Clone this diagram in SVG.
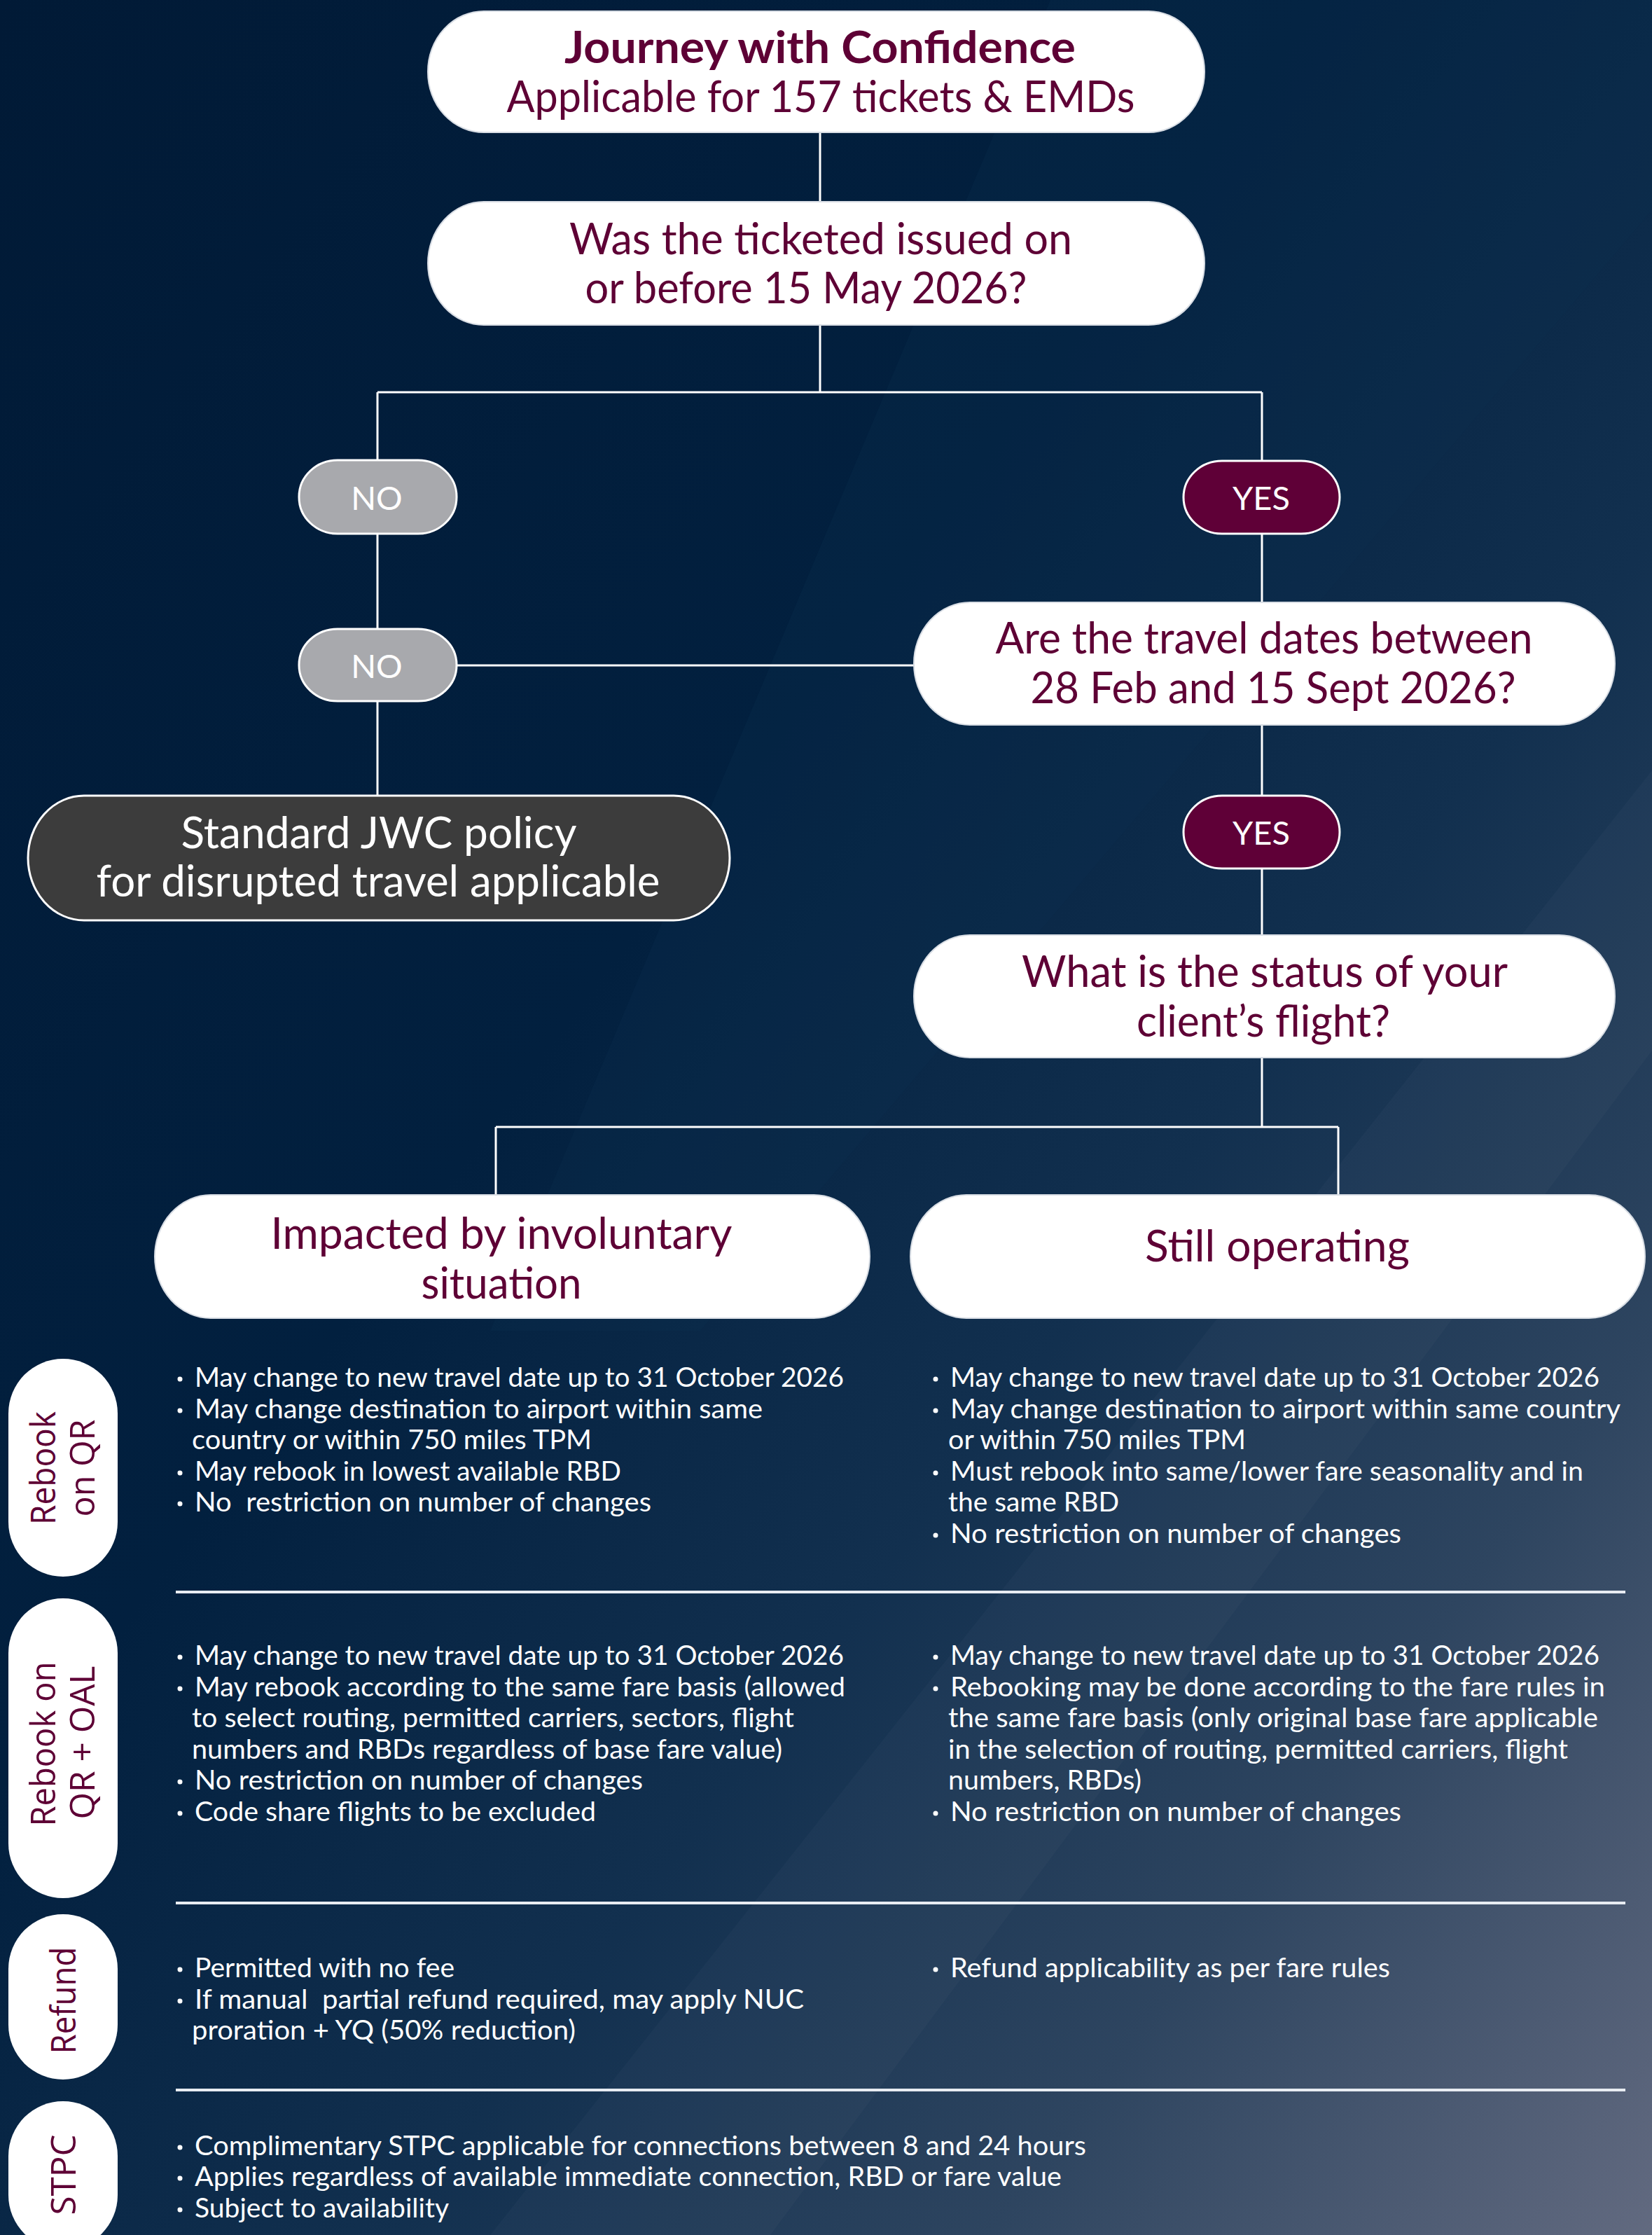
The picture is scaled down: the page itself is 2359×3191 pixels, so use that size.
<svg xmlns="http://www.w3.org/2000/svg" width="2359" height="3191" viewBox="0 0 2359 3191">
<defs>
<linearGradient id="bg" x1="0" y1="0" x2="1" y2="1">
<stop offset="0" stop-color="#011a36"/>
<stop offset="0.4" stop-color="#02203f"/>
<stop offset="0.62" stop-color="#12304f"/>
<stop offset="0.8" stop-color="#2e4560"/>
<stop offset="1" stop-color="#626a80"/>
</linearGradient>
<style>
.node{fill:#ffffff;stroke:#d8dde4;stroke-width:2}
.nt{font-family:Lato,"Liberation Sans",sans-serif;font-size:61px;fill:#5e0035;text-anchor:middle}
.nb{font-weight:bold;font-size:64px}
.no{fill:#a8a9ad;stroke:#ffffff;stroke-width:3}
.yes{fill:#5f0037;stroke:#ffffff;stroke-width:3}
.std{fill:#3c3c3c;stroke:#ffffff;stroke-width:3}
.lt{font-family:Lato,"Liberation Sans",sans-serif;font-size:47px;fill:#ffffff;text-anchor:middle}
.wt{font-family:Lato,"Liberation Sans",sans-serif;font-size:61px;fill:#ffffff;text-anchor:middle}
.conn{stroke:#ffffff;stroke-width:3;fill:none}
.div{stroke:#e8ecf2;stroke-width:4}
.side{fill:#ffffff}
.st{font-family:"Open Sans","Liberation Sans",sans-serif;font-size:50px;fill:#5e0035;text-anchor:middle}
.bt{font-family:Lato,"Liberation Sans",sans-serif;font-size:39.5px;fill:#ffffff}
.bu{fill:#ffffff}
</style>
</defs>
<rect x="0" y="0" width="2359" height="3191" fill="url(#bg)"/>
<path d="M700 3191 L2359 1100 L2359 1500 L1100 3191 Z" fill="#ffffff" opacity="0.025"/>
<path d="M1500 0 L2359 0 L2359 300 L1000 1900 L700 1900 Z" fill="#0a3050" opacity="0.25"/>

<g id="connectors">
<path class="conn" d="M1171 189 V288"/>
<path class="conn" d="M1171 464 V560 M539 560 H1802 M539 560 V657 M1802 560 V658"/>
<path class="conn" d="M539 762 V898"/>
<path class="conn" d="M652 950 H1305"/>
<path class="conn" d="M539 1001 V1136"/>
<path class="conn" d="M1802 762 V860"/>
<path class="conn" d="M1802 1035 V1136"/>
<path class="conn" d="M1802 1240 V1335"/>
<path class="conn" d="M1802 1510 V1609 M708 1609 H1911 M708 1609 V1706 M1911 1609 V1706"/>
</g>

<g id="n-title">
<rect class="node" x="611" y="16" width="1109" height="173" rx="80" ry="86"/>
<text class="nt nb" x="1171" y="90" textLength="730" lengthAdjust="spacingAndGlyphs">Journey with Confidence</text>
<text class="nt" x="1172" y="160" textLength="897" lengthAdjust="spacingAndGlyphs">Applicable for 157 tickets &amp; EMDs</text>
</g>
<g id="n-issued">
<rect class="node" x="611" y="288" width="1109" height="176" rx="80" ry="88"/>
<text class="nt" x="1172" y="363" textLength="718" lengthAdjust="spacingAndGlyphs">Was the ticketed issued on</text>
<text class="nt" x="1151" y="433" textLength="631" lengthAdjust="spacingAndGlyphs">or before 15 May 2026?</text>
</g>
<g id="n-no1">
<rect class="no" x="427" y="657" width="225" height="105" rx="55" ry="52"/>
<text class="lt" x="538" y="728">NO</text>
</g>
<g id="n-no2">
<rect class="no" x="427" y="898" width="225" height="103" rx="55" ry="51"/>
<text class="lt" x="538" y="968">NO</text>
</g>
<g id="n-standard">
<rect class="std" x="40" y="1136" width="1002" height="178" rx="80" ry="89"/>
<text class="wt" x="541" y="1211" textLength="565" lengthAdjust="spacingAndGlyphs">Standard JWC policy</text>
<text class="wt" x="540" y="1280" textLength="805" lengthAdjust="spacingAndGlyphs">for disrupted travel applicable</text>
</g>
<g id="n-yes1">
<rect class="yes" x="1690" y="658" width="223" height="104" rx="55" ry="52"/>
<text class="lt" x="1801" y="728">YES</text>
</g>
<g id="n-dates">
<rect class="node" x="1305" y="860" width="1001" height="175" rx="80" ry="87"/>
<text class="nt" x="1805" y="933" textLength="767" lengthAdjust="spacingAndGlyphs">Are the travel dates between</text>
<text class="nt" x="1818" y="1004" textLength="693" lengthAdjust="spacingAndGlyphs">28 Feb and 15 Sept 2026?</text>
</g>
<g id="n-yes2">
<rect class="yes" x="1690" y="1136" width="223" height="104" rx="55" ry="52"/>
<text class="lt" x="1801" y="1206">YES</text>
</g>
<g id="n-status">
<rect class="node" x="1305" y="1335" width="1001" height="175" rx="80" ry="87"/>
<text class="nt" x="1806" y="1409" textLength="694" lengthAdjust="spacingAndGlyphs">What is the status of your</text>
<text class="nt" x="1804" y="1480" textLength="362" lengthAdjust="spacingAndGlyphs">client’s flight?</text>
</g>
<g id="n-impacted">
<rect class="node" x="221" y="1706" width="1021" height="176" rx="80" ry="88"/>
<text class="nt" x="716" y="1783" textLength="659" lengthAdjust="spacingAndGlyphs">Impacted by involuntary</text>
<text class="nt" x="716" y="1854" textLength="229" lengthAdjust="spacingAndGlyphs">situation</text>
</g>
<g id="n-operating">
<rect class="node" x="1300" y="1706" width="1049" height="176" rx="80" ry="88"/>
<text class="nt" x="1824" y="1801" textLength="378" lengthAdjust="spacingAndGlyphs">Still operating</text>
</g>

<g id="side-rebook-qr">
<rect class="side" x="12" y="1940" width="156" height="311" rx="78" ry="78"/>
<text class="st" transform="translate(79,2096) rotate(-90)" textLength="162" lengthAdjust="spacingAndGlyphs">Rebook</text>
<text class="st" transform="translate(135,2096) rotate(-90)" textLength="139" lengthAdjust="spacingAndGlyphs">on QR</text>
</g>
<g id="side-rebook-oal">
<rect class="side" x="12" y="2282" width="156" height="428" rx="78" ry="78"/>
<text class="st" transform="translate(79,2490) rotate(-90)" textLength="235" lengthAdjust="spacingAndGlyphs">Rebook on</text>
<text class="st" transform="translate(135,2488) rotate(-90)" textLength="219" lengthAdjust="spacingAndGlyphs">QR + OAL</text>
</g>
<g id="side-refund">
<rect class="side" x="12" y="2733" width="156" height="236" rx="78" ry="78"/>
<text class="st" transform="translate(108,2856) rotate(-90)" textLength="153" lengthAdjust="spacingAndGlyphs">Refund</text>
</g>
<g id="side-stpc">
<rect class="side" x="12" y="3000" width="156" height="212" rx="78" ry="78"/>
<text class="st" transform="translate(108,3105) rotate(-90)" textLength="115" lengthAdjust="spacingAndGlyphs">STPC</text>
</g>

<g id="dividers">
<line class="div" x1="251" y1="2273" x2="2321" y2="2273"/>
<line class="div" x1="251" y1="2717" x2="2321" y2="2717"/>
<line class="div" x1="251" y1="2984" x2="2321" y2="2984"/>
</g>

<g id="impacted-rebook-qr">
<circle class="bu" cx="257" cy="1969" r="3.5"/>
<text class="bt" x="278" y="1980" textLength="927" lengthAdjust="spacingAndGlyphs">May change to new travel date up to 31 October 2026</text>
<circle class="bu" cx="257" cy="2014" r="3.5"/>
<text class="bt" x="278" y="2025" textLength="811" lengthAdjust="spacingAndGlyphs">May change destination to airport within same</text>
<text class="bt" x="274" y="2069" textLength="571" lengthAdjust="spacingAndGlyphs">country or within 750 miles TPM</text>
<circle class="bu" cx="257" cy="2103" r="3.5"/>
<text class="bt" x="278" y="2114" textLength="609" lengthAdjust="spacingAndGlyphs">May rebook in lowest available RBD</text>
<circle class="bu" cx="257" cy="2147" r="3.5"/>
<text class="bt" x="278" y="2158" xml:space="preserve" textLength="652" lengthAdjust="spacingAndGlyphs">No  restriction on number of changes</text>
</g>
<g id="operating-rebook-qr">
<circle class="bu" cx="1336" cy="1969" r="3.5"/>
<text class="bt" x="1357" y="1980" textLength="927" lengthAdjust="spacingAndGlyphs">May change to new travel date up to 31 October 2026</text>
<circle class="bu" cx="1336" cy="2014" r="3.5"/>
<text class="bt" x="1357" y="2025" textLength="957" lengthAdjust="spacingAndGlyphs">May change destination to airport within same country</text>
<text class="bt" x="1354" y="2069" textLength="425" lengthAdjust="spacingAndGlyphs">or within 750 miles TPM</text>
<circle class="bu" cx="1336" cy="2103" r="3.5"/>
<text class="bt" x="1357" y="2114" textLength="904" lengthAdjust="spacingAndGlyphs">Must rebook into same/lower fare seasonality and in</text>
<text class="bt" x="1354" y="2158" textLength="244" lengthAdjust="spacingAndGlyphs">the same RBD</text>
<circle class="bu" cx="1336" cy="2192" r="3.5"/>
<text class="bt" x="1357" y="2203" textLength="644" lengthAdjust="spacingAndGlyphs">No restriction on number of changes</text>
</g>

<g id="impacted-rebook-oal">
<circle class="bu" cx="257" cy="2366" r="3.5"/>
<text class="bt" x="278" y="2377" textLength="927" lengthAdjust="spacingAndGlyphs">May change to new travel date up to 31 October 2026</text>
<circle class="bu" cx="257" cy="2411" r="3.5"/>
<text class="bt" x="278" y="2422" textLength="929" lengthAdjust="spacingAndGlyphs">May rebook according to the same fare basis (allowed</text>
<text class="bt" x="274" y="2466" textLength="860" lengthAdjust="spacingAndGlyphs">to select routing, permitted carriers, sectors, flight</text>
<text class="bt" x="274" y="2511" textLength="843" lengthAdjust="spacingAndGlyphs">numbers and RBDs regardless of base fare value)</text>
<circle class="bu" cx="257" cy="2544" r="3.5"/>
<text class="bt" x="278" y="2555" textLength="640" lengthAdjust="spacingAndGlyphs">No restriction on number of changes</text>
<circle class="bu" cx="257" cy="2589" r="3.5"/>
<text class="bt" x="278" y="2600" textLength="573" lengthAdjust="spacingAndGlyphs">Code share flights to be excluded</text>
</g>
<g id="operating-rebook-oal">
<circle class="bu" cx="1336" cy="2366" r="3.5"/>
<text class="bt" x="1357" y="2377" textLength="927" lengthAdjust="spacingAndGlyphs">May change to new travel date up to 31 October 2026</text>
<circle class="bu" cx="1336" cy="2411" r="3.5"/>
<text class="bt" x="1357" y="2422" textLength="935" lengthAdjust="spacingAndGlyphs">Rebooking may be done according to the fare rules in</text>
<text class="bt" x="1354" y="2466" textLength="928" lengthAdjust="spacingAndGlyphs">the same fare basis (only original base fare applicable</text>
<text class="bt" x="1354" y="2511" textLength="885" lengthAdjust="spacingAndGlyphs">in the selection of routing, permitted carriers, flight</text>
<text class="bt" x="1354" y="2555" textLength="276" lengthAdjust="spacingAndGlyphs">numbers, RBDs)</text>
<circle class="bu" cx="1336" cy="2589" r="3.5"/>
<text class="bt" x="1357" y="2600" textLength="644" lengthAdjust="spacingAndGlyphs">No restriction on number of changes</text>
</g>

<g id="impacted-refund">
<circle class="bu" cx="257" cy="2812" r="3.5"/>
<text class="bt" x="278" y="2823" textLength="371" lengthAdjust="spacingAndGlyphs">Permitted with no fee</text>
<circle class="bu" cx="257" cy="2857" r="3.5"/>
<text class="bt" x="278" y="2868" xml:space="preserve" textLength="870" lengthAdjust="spacingAndGlyphs">If manual  partial refund required, may apply NUC</text>
<text class="bt" x="274" y="2912" textLength="548" lengthAdjust="spacingAndGlyphs">proration + YQ (50% reduction)</text>
</g>
<g id="operating-refund">
<circle class="bu" cx="1336" cy="2812" r="3.5"/>
<text class="bt" x="1357" y="2823" textLength="628" lengthAdjust="spacingAndGlyphs">Refund applicability as per fare rules</text>
</g>

<g id="stpc">
<circle class="bu" cx="257" cy="3066" r="3.5"/>
<text class="bt" x="278" y="3077" textLength="1273" lengthAdjust="spacingAndGlyphs">Complimentary STPC applicable for connections between 8 and 24 hours</text>
<circle class="bu" cx="257" cy="3110" r="3.5"/>
<text class="bt" x="278" y="3121" textLength="1238" lengthAdjust="spacingAndGlyphs">Applies regardless of available immediate connection, RBD or fare value</text>
<circle class="bu" cx="257" cy="3155" r="3.5"/>
<text class="bt" x="278" y="3166" textLength="363" lengthAdjust="spacingAndGlyphs">Subject to availability</text>
</g>
</svg>
